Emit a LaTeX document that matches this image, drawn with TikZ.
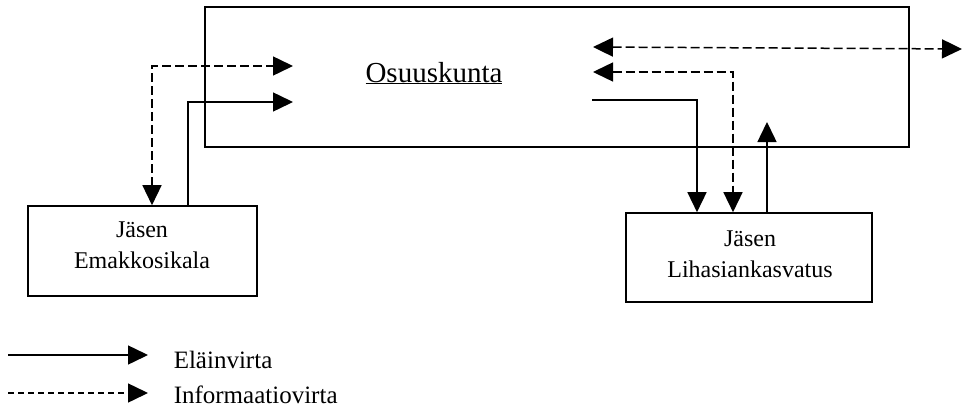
\documentclass[tikz,border=0pt]{standalone}
\usepackage{fontspec}
\setmainfont{Liberation Serif}
\usetikzlibrary{arrows.meta}
\begin{document}
\begin{tikzpicture}[x=1pt,y=-1pt,
  line width=1.5pt,
  tip/.tip={Triangle[length=20pt,width=19pt]},
  flow/.style={-tip},
  info/.style={-tip,dash pattern=on 6pt off 4pt},
  infob/.style={tip-tip,dash pattern=on 9pt off 4pt},
  boxtxt/.style={font=\fontsize{24}{31}\selectfont,align=center,inner sep=0pt},
  legtxt/.style={font=\fontsize{25}{30}\selectfont,anchor=base west,inner sep=0pt}]
\useasboundingbox (0,0) rectangle (963,412);
% boxes
\draw[line width=1.6pt] (205,7) rectangle (909,147);
\node[font=\fontsize{29}{34}\selectfont,inner sep=0pt,anchor=base] (osk) at (434,82) {\underline{Osuuskunta}};
\node[draw,line width=1.6pt,minimum width=229pt,minimum height=90pt,inner sep=0pt] (em) at (142.5,251) {};
\node[boxtxt] (emt) at (142,245) {Jäsen\\Emakkosikala};
\node[draw,line width=1.6pt,minimum width=246pt,minimum height=89pt,inner sep=0pt] (lh) at (749,257.5) {};
\node[boxtxt] (lht) at (750,254) {Jäsen\\Lihasiankasvatus};
% coordinates
\coordinate (a1) at (293,66);
\coordinate (a2) at (293,102);
\coordinate (b1) at (593,47);
\coordinate (b2) at (962,49);
\coordinate (b3) at (593,72);
\coordinate (b4) at (592,100);
\coordinate (b5) at (767,122);
% connectors
\draw[infob] (em.north -| 152,0) |- (a1);
\draw[flow] (em.north -| 188,0) |- (a2);
\draw[infob] (b1) -- (b2);
\draw[infob] (b3) -| (lh.north -| 733,0);
\draw[flow] (b4) -| (lh.north -| 697,0);
\draw[flow] (lh.north -| 767,0) -- (b5);
% legend
\coordinate (l1) at (8,355);
\coordinate (l2) at (148,355);
\coordinate (l3) at (8,393);
\coordinate (l4) at (148,393);
\draw[flow] (l1) -- (l2);
\draw[info] (l3) -- (l4);
\node[legtxt] (lt1) at (173,368) {Eläinvirta};
\node[legtxt] (lt2) at (173,403) {Informaatiovirta};
\end{tikzpicture}
\end{document}
